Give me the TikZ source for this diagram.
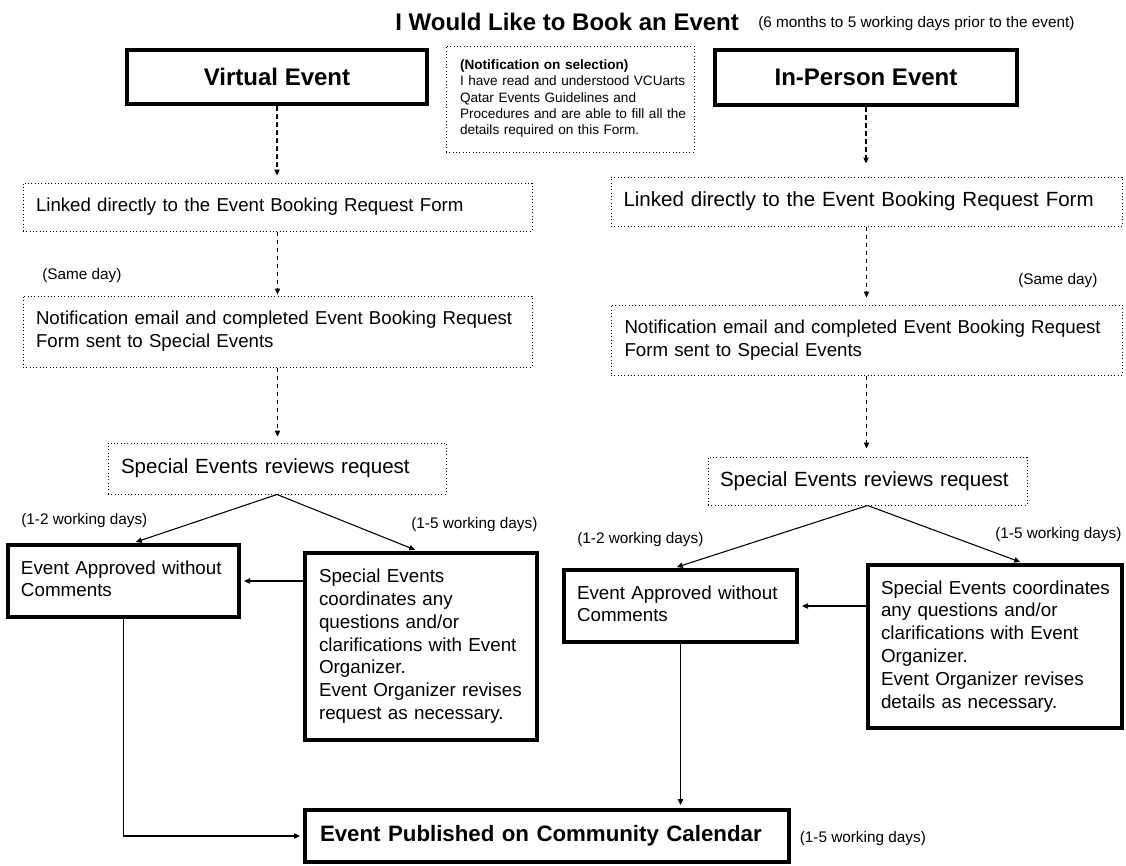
\documentclass[tikz,border=0pt]{standalone}
\usepackage{fontspec}
\setmainfont{Liberation Sans}
\usetikzlibrary{arrows.meta,calc}
\newcommand\fs[2]{\fontsize{#1pt}{#2pt}\selectfont}
\begin{document}
\begin{tikzpicture}[x=0.75pt,y=-0.75pt,
  thickbox/.style={draw, line width=3pt, inner sep=0pt},
  dotbox/.style={draw, line width=0.75pt, dash pattern=on 0.75pt off 1.75pt, inner sep=0pt},
  dasharrow/.style={draw, line width=0.8pt, dash pattern=on 3.5pt off 2.5pt, -{Triangle[length=4.5pt,width=4pt]}},
  solidarrow/.style={draw, line width=0.8pt, -{Triangle[length=4.5pt,width=4pt]}},
  lbl/.style={anchor=base west, inner sep=0pt, font=\fs{11.5}{13}},
  bigfont/.style={font=\bfseries\fs{18}{21}},
  txt/.style={text width=#1, align=left}
]
\fill[white] (0,0) rectangle (1126,865);
\useasboundingbox (0,0) rectangle (1126,865);

% title
\node[anchor=base west, inner sep=0pt, bigfont] (title) at (395,30) {I Would Like to Book an Event};
\node[lbl] (sub) at (758,27) {(6 months to 5 working days prior to the event)};

% top boxes
\node[thickbox, bigfont, minimum width=225pt, minimum height=40.5pt] (virt) at (277,77) {Virtual Event};
\node[thickbox, bigfont, minimum width=226.5pt, minimum height=41.25pt] (inp) at (866,77.5) {In-Person Event};
\node[dotbox, minimum width=186pt, minimum height=79.5pt, txt=165pt, font=\fs{10.2}{12.2}] (sel) at (570,99)
  {\begin{tabular}{@{}l@{}}\textbf{(Notification on selection)}\\ I have read and understood VCUarts\\ Qatar Events Guidelines and\\ Procedures and are able to fill all the\\ details required on this Form.\end{tabular}};

% left column
\node[dotbox, minimum width=381.75pt, minimum height=36pt, txt=362.25pt, font=\fs{14}{17}] (linkL) at (277.5,207)
  {Linked directly to the Event Booking Request Form};
\node[dotbox, minimum width=381.75pt, minimum height=53.25pt, txt=362.25pt, font=\fs{14}{17.25}] (notifL) at (277.5,331.5)
  {\begin{tabular}{@{}l@{}}Notification email and completed Event Booking Request\\ Form sent to Special Events\end{tabular}};
\node[dotbox, minimum width=253.5pt, minimum height=38.25pt, txt=234pt, font=\fs{15.4}{18}] (revL) at (277,468.5)
  {Special Events reviews request};
\node[thickbox, minimum width=173.25pt, minimum height=54pt, txt=153.75pt, font=\fs{14.1}{16.5}] (apprL) at (123.5,581)
  {\begin{tabular}{@{}l@{}}Event Approved without\\ Comments\end{tabular}};
\node[thickbox, minimum width=174pt, minimum height=140.25pt, txt=153pt, font=\fs{14.1}{17.1}] (specL) at (421,646.5)
  {\begin{tabular}{@{}l@{}}Special Events\\ coordinates any\\ questions and/or\\ clarifications with Event\\ Organizer.\\ Event Organizer revises\\ request as necessary.\end{tabular}};

% right column
\node[dotbox, minimum width=383.25pt, minimum height=36.75pt, txt=364.5pt, font=\fs{15.4}{18}] (linkR) at (866.5,201.5)
  {Linked directly to the Event Booking Request Form};
\node[dotbox, minimum width=383.25pt, minimum height=52.5pt, txt=363pt, font=\fs{14}{17.25}] (notifR) at (866.5,340)
  {\begin{tabular}{@{}l@{}}Notification email and completed Event Booking Request\\ Form sent to Special Events\end{tabular}};
\node[dotbox, minimum width=239.25pt, minimum height=36pt, txt=221.25pt, font=\fs{15.4}{18}] (revR) at (867.5,481)
  {Special Events reviews request};
\node[thickbox, minimum width=174.75pt, minimum height=54pt, txt=155.25pt, font=\fs{14.1}{16.5}] (apprR) at (680.5,606)
  {\begin{tabular}{@{}l@{}}Event Approved without\\ Comments\end{tabular}};
\node[thickbox, minimum width=190.5pt, minimum height=122.25pt, txt=171pt, font=\fs{14.1}{17.1}] (specR) at (995,646.5)
  {\begin{tabular}{@{}l@{}}Special Events coordinates\\ any questions and/or\\ clarifications with Event\\ Organizer.\\ Event Organizer revises\\ details as necessary.\end{tabular}};

% bottom
\node[thickbox, minimum width=363pt, minimum height=39pt, txt=340.5pt, font=\bfseries\fs{16.7}{19}] (pub) at (547,836)
  {Event Published on Community Calendar};

% labels
\node[lbl] (sameL) at (42,279) {(Same day)};
\node[lbl] (sameR) at (1018,284) {(Same day)};
\node[lbl] (dLa) at (21,524) {(1-2 working days)};
\node[lbl] (dLb) at (411,528) {(1-5 working days)};
\node[lbl] (dRa) at (577,543) {(1-2 working days)};
\node[lbl] (dRb) at (995,538) {(1-5 working days)};
\node[lbl] (dPub) at (799.5,842) {(1-5 working days)};

% dashed connectors
\draw[dasharrow, shorten >=5.25pt] (virt.south) -- (virt.south |- linkL.north);
\draw[dasharrow, shorten >=9.75pt] (inp.south) -- (inp.south |- linkR.north);
\draw[dasharrow, shorten >=0.75pt] (linkL.south) -- (linkL.south |- notifL.north);
\draw[dasharrow, shorten >=5.25pt] (linkR.south) -- (linkR.south |- notifR.north);
\draw[dasharrow, shorten >=4.5pt] (notifL.south) -- (notifL.south |- revL.north);
\draw[dasharrow, shorten >=6pt] (notifR.south) -- (notifR.south |- revR.north);

% solid connectors
\draw[solidarrow, shorten >=2.25pt] (revL.south) -- ([xshift=7.1pt]apprL.north);
\draw[solidarrow, shorten >=2.25pt] (revL.south) -- ([xshift=-2.25pt]specL.north);
\draw[solidarrow, shorten >=2.25pt] (revR.south) -- ([xshift=-4.9pt]apprR.north);
\draw[solidarrow, shorten >=2.25pt] (revR.south) -- ([xshift=21pt]specR.north);
\draw[solidarrow, shorten >=2.25pt] (specL.west |- apprL.east) -- (apprL.east);
\draw[solidarrow, shorten >=2.25pt] (specR.west |- apprR.east) -- (apprR.east);
\draw[solidarrow, shorten >=2.25pt] (apprL.south) |- (pub.west);
\draw[solidarrow, shorten >=2.25pt] (apprR.south) -- (apprR.south |- pub.north);
\end{tikzpicture}
\end{document}
